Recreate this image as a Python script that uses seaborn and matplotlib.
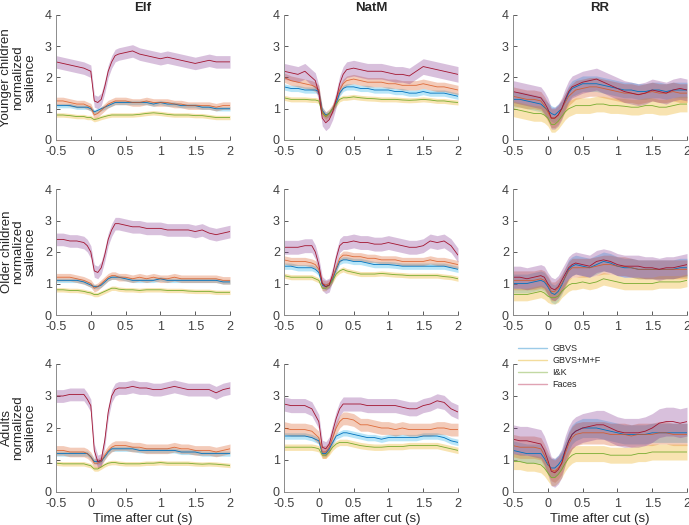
import numpy as np
import pandas as pd
import matplotlib
matplotlib.use("Agg")
import matplotlib.pyplot as plt
import seaborn as sns
from matplotlib.lines import Line2D

# ---------------- data ----------------
time = [-0.5, -0.4, -0.3, -0.2, -0.1, -0.05, 0.0, 0.05, 0.1, 0.15, 0.2, 0.25, 0.3, 0.35, 0.4,
        0.5, 0.6, 0.7, 0.8, 0.9, 1.0, 1.1, 1.2, 1.3, 1.4, 1.5, 1.6, 1.7, 1.8, 1.9, 2.0]

groups = ["Younger children", "Older children", "Adults"]
stimuli = ["Elf", "NatM", "RR"]
models = ["GBVS", "GBVS+M+F", "I&K", "Faces"]

# Younger children
y_elf_gbvs = [1.1,1.1,1.1,1.05,1.05,1.05,1.0,0.9,0.95,1.0,1.05,1.1,1.15,1.2,1.2,1.2,1.2,1.2,1.2,1.15,1.2,1.15,1.15,1.1,1.1,1.1,1.05,1.05,1.0,1.0,1.0]
y_elf_gmf = [1.25,1.25,1.2,1.15,1.15,1.1,1.05,0.8,0.85,0.95,1.05,1.15,1.2,1.25,1.25,1.25,1.2,1.2,1.25,1.2,1.2,1.2,1.15,1.15,1.1,1.1,1.1,1.1,1.05,1.1,1.1]
y_elf_ik = [0.8,0.8,0.78,0.75,0.75,0.72,0.72,0.65,0.68,0.72,0.75,0.78,0.8,0.8,0.8,0.8,0.8,0.82,0.85,0.87,0.85,0.82,0.8,0.8,0.8,0.78,0.78,0.75,0.72,0.72,0.72]
y_elf_faces = [2.5,2.45,2.4,2.35,2.3,2.25,2.2,1.25,1.2,1.3,1.7,2.2,2.5,2.7,2.75,2.8,2.85,2.75,2.7,2.65,2.6,2.65,2.6,2.55,2.5,2.45,2.5,2.55,2.5,2.5,2.5]

y_natm_gbvs = [1.7,1.65,1.65,1.6,1.6,1.6,1.55,0.95,0.8,0.85,1.0,1.2,1.5,1.65,1.7,1.7,1.65,1.65,1.6,1.6,1.6,1.55,1.55,1.5,1.5,1.55,1.5,1.5,1.5,1.45,1.4]
y_natm_gmf = [2.0,1.9,1.85,1.8,1.75,1.7,1.6,0.9,0.75,0.85,1.0,1.3,1.6,1.8,1.9,1.95,1.9,1.85,1.85,1.85,1.8,1.8,1.75,1.75,1.75,1.8,1.75,1.7,1.7,1.65,1.6]
y_natm_ik = [1.35,1.3,1.3,1.3,1.28,1.28,1.25,0.85,0.75,0.85,1.0,1.15,1.3,1.35,1.35,1.38,1.35,1.33,1.32,1.3,1.3,1.3,1.28,1.27,1.28,1.3,1.28,1.25,1.25,1.22,1.2]
y_natm_faces = [2.2,2.15,2.1,2.2,2.0,1.9,1.5,0.7,0.55,0.65,0.9,1.3,1.8,2.1,2.25,2.3,2.25,2.2,2.2,2.2,2.15,2.1,2.1,2.05,2.2,2.35,2.3,2.25,2.2,2.15,2.1]

y_rr_gbvs = [1.3,1.3,1.25,1.2,1.15,1.05,0.95,0.85,0.8,0.9,1.0,1.25,1.5,1.65,1.7,1.8,1.8,1.8,1.75,1.7,1.65,1.6,1.6,1.55,1.55,1.6,1.6,1.55,1.6,1.6,1.6]
y_rr_gmf = [1.4,1.35,1.3,1.3,1.25,1.1,0.9,0.7,0.7,0.8,1.0,1.2,1.4,1.5,1.6,1.65,1.7,1.7,1.65,1.6,1.55,1.5,1.5,1.45,1.5,1.55,1.5,1.5,1.55,1.5,1.5]
y_rr_ik = [1.0,0.95,0.9,0.85,0.85,0.8,0.7,0.5,0.5,0.6,0.75,0.9,1.0,1.05,1.1,1.1,1.1,1.15,1.15,1.1,1.1,1.08,1.05,1.05,1.1,1.1,1.05,1.05,1.1,1.15,1.15]
y_rr_faces = [1.55,1.5,1.45,1.4,1.35,1.2,1.0,0.7,0.7,0.8,1.0,1.3,1.55,1.7,1.75,1.85,1.9,1.95,1.85,1.75,1.65,1.55,1.5,1.45,1.5,1.6,1.55,1.5,1.6,1.65,1.6]

# Older children
o_elf_gbvs = [1.1,1.1,1.1,1.1,1.05,1.0,0.95,0.9,0.9,0.95,1.05,1.15,1.2,1.2,1.2,1.15,1.1,1.1,1.1,1.1,1.15,1.1,1.1,1.1,1.1,1.1,1.1,1.1,1.1,1.05,1.05]
o_elf_gmf = [1.2,1.2,1.2,1.15,1.1,1.05,1.0,0.85,0.9,1.0,1.1,1.2,1.25,1.25,1.2,1.2,1.15,1.2,1.15,1.2,1.15,1.15,1.2,1.15,1.15,1.15,1.15,1.15,1.15,1.1,1.1]
o_elf_ik = [0.8,0.8,0.78,0.78,0.75,0.72,0.7,0.65,0.65,0.7,0.75,0.8,0.85,0.85,0.82,0.8,0.8,0.78,0.8,0.8,0.8,0.78,0.78,0.78,0.76,0.75,0.75,0.75,0.72,0.72,0.72]
o_elf_faces = [2.4,2.4,2.35,2.35,2.3,2.2,2.0,1.4,1.35,1.5,1.9,2.4,2.7,2.9,2.9,2.85,2.8,2.8,2.75,2.75,2.75,2.7,2.7,2.7,2.7,2.65,2.7,2.6,2.55,2.6,2.65]

o_natm_gbvs = [1.55,1.55,1.5,1.5,1.5,1.45,1.35,0.95,0.9,0.95,1.15,1.45,1.7,1.75,1.75,1.7,1.7,1.65,1.6,1.6,1.6,1.58,1.55,1.55,1.55,1.55,1.55,1.55,1.55,1.5,1.45]
o_natm_gmf = [1.75,1.7,1.7,1.7,1.65,1.6,1.45,1.0,0.95,1.0,1.2,1.5,1.8,1.9,1.9,1.85,1.85,1.8,1.8,1.75,1.75,1.75,1.7,1.7,1.7,1.7,1.75,1.7,1.7,1.65,1.6]
o_natm_ik = [1.25,1.2,1.2,1.2,1.2,1.15,1.1,0.85,0.85,0.95,1.1,1.3,1.4,1.45,1.4,1.35,1.3,1.3,1.3,1.32,1.3,1.28,1.27,1.25,1.25,1.25,1.25,1.25,1.22,1.2,1.15]
o_natm_faces = [2.15,2.15,2.15,2.2,2.2,2.0,1.6,1.0,0.9,0.95,1.3,1.8,2.2,2.3,2.3,2.35,2.3,2.3,2.25,2.25,2.3,2.25,2.2,2.15,2.15,2.2,2.35,2.3,2.35,2.2,1.9]

o_rr_gbvs = [1.0,1.0,1.0,1.05,1.1,1.05,0.9,0.7,0.65,0.75,0.95,1.2,1.45,1.55,1.6,1.55,1.5,1.6,1.7,1.65,1.55,1.5,1.5,1.45,1.45,1.45,1.45,1.45,1.45,1.5,1.5]
o_rr_gmf = [1.1,1.1,1.1,1.1,1.15,1.1,0.95,0.75,0.75,0.85,1.0,1.2,1.4,1.5,1.5,1.5,1.5,1.55,1.6,1.6,1.55,1.55,1.5,1.45,1.45,1.45,1.45,1.45,1.45,1.45,1.45]
o_rr_ik = [0.65,0.65,0.65,0.7,0.75,0.7,0.6,0.55,0.55,0.6,0.75,0.85,0.95,1.0,1.0,1.05,1.0,1.05,1.15,1.1,1.05,1.0,1.0,1.0,1.0,1.0,1.05,1.05,1.05,1.05,1.1]
o_rr_faces = [1.2,1.2,1.15,1.2,1.25,1.2,1.0,0.85,0.8,0.9,1.1,1.3,1.5,1.6,1.65,1.6,1.55,1.7,1.75,1.7,1.6,1.55,1.55,1.55,1.5,1.5,1.45,1.5,1.5,1.55,1.6]

# Adults
a_elf_gbvs = [1.2,1.2,1.2,1.2,1.2,1.2,1.1,0.95,0.95,0.95,1.1,1.25,1.35,1.35,1.35,1.35,1.35,1.3,1.3,1.3,1.3,1.3,1.3,1.25,1.25,1.25,1.2,1.2,1.2,1.2,1.2]
a_elf_gmf = [1.3,1.3,1.25,1.25,1.25,1.2,1.1,0.9,0.9,0.95,1.15,1.3,1.4,1.45,1.45,1.45,1.4,1.4,1.35,1.35,1.35,1.35,1.4,1.35,1.35,1.3,1.3,1.3,1.25,1.3,1.35]
a_elf_ik = [0.9,0.88,0.88,0.88,0.88,0.85,0.82,0.72,0.72,0.78,0.85,0.9,0.92,0.92,0.9,0.88,0.88,0.88,0.9,0.9,0.92,0.9,0.9,0.9,0.9,0.88,0.87,0.88,0.87,0.85,0.83]
a_elf_faces = [3.0,3.0,3.05,3.05,3.05,2.9,2.7,1.3,0.95,1.0,1.6,2.5,3.0,3.2,3.25,3.25,3.3,3.25,3.25,3.2,3.2,3.25,3.3,3.25,3.2,3.2,3.2,3.2,3.1,3.2,3.25]

a_natm_gbvs = [1.75,1.75,1.75,1.75,1.7,1.65,1.6,1.2,1.2,1.35,1.55,1.75,1.8,1.85,1.85,1.8,1.75,1.7,1.7,1.65,1.7,1.7,1.7,1.7,1.7,1.75,1.75,1.75,1.7,1.6,1.55]
a_natm_gmf = [2.0,1.95,1.95,1.95,1.9,1.8,1.7,1.25,1.25,1.4,1.7,2.0,2.2,2.3,2.3,2.25,2.1,2.1,2.05,2.0,2.0,1.95,2.0,1.95,1.95,1.95,1.95,2.0,2.0,1.95,1.95]
a_natm_ik = [1.4,1.4,1.4,1.4,1.4,1.38,1.35,1.15,1.15,1.25,1.4,1.5,1.55,1.55,1.55,1.5,1.45,1.42,1.4,1.4,1.42,1.42,1.42,1.45,1.45,1.45,1.45,1.45,1.4,1.35,1.3]
a_natm_faces = [2.75,2.7,2.7,2.7,2.6,2.4,2.2,1.4,1.35,1.5,1.9,2.3,2.6,2.75,2.75,2.75,2.75,2.7,2.7,2.7,2.7,2.7,2.65,2.6,2.6,2.7,2.75,2.85,2.8,2.6,2.5]

a_rr_gbvs = [1.3,1.25,1.2,1.2,1.2,1.05,0.85,0.75,0.75,0.85,1.0,1.3,1.6,1.8,1.9,2.0,2.0,2.0,1.95,1.9,1.85,1.8,1.8,1.8,1.8,1.85,1.85,1.85,1.85,1.85,1.85]
a_rr_gmf = [1.45,1.4,1.4,1.4,1.35,1.15,0.9,0.7,0.65,0.75,0.9,1.2,1.5,1.7,1.8,1.85,1.85,1.85,1.85,1.8,1.8,1.8,1.75,1.8,1.8,1.8,1.85,1.85,1.8,1.8,1.8]
a_rr_ik = [0.95,0.95,0.9,0.9,0.85,0.75,0.6,0.45,0.45,0.55,0.7,0.9,1.05,1.15,1.2,1.2,1.2,1.2,1.2,1.15,1.15,1.15,1.15,1.2,1.2,1.25,1.25,1.25,1.25,1.25,1.25]
a_rr_faces = [1.65,1.6,1.6,1.55,1.5,1.3,1.0,0.65,0.6,0.7,0.9,1.3,1.6,1.8,1.9,2.0,2.05,2.1,2.1,2.0,1.9,1.85,1.85,1.85,1.9,2.0,2.15,2.2,2.2,2.15,2.2]

# half-width of the shaded band, per panel, per model (GBVS, GBVS+M+F, I&K, Faces)
band_y = {"Elf": [0.07, 0.12, 0.07, 0.2], "NatM": [0.1, 0.15, 0.08, 0.25], "RR": [0.25, 0.3, 0.25, 0.35]}
band_o = {"Elf": [0.07, 0.12, 0.07, 0.2], "NatM": [0.1, 0.13, 0.08, 0.22], "RR": [0.3, 0.3, 0.2, 0.35]}
band_a = {"Elf": [0.08, 0.15, 0.07, 0.2], "NatM": [0.1, 0.2, 0.1, 0.22], "RR": [0.3, 0.35, 0.25, 0.45]}

means = {
    "Younger children": {"Elf": [y_elf_gbvs, y_elf_gmf, y_elf_ik, y_elf_faces],
                         "NatM": [y_natm_gbvs, y_natm_gmf, y_natm_ik, y_natm_faces],
                         "RR": [y_rr_gbvs, y_rr_gmf, y_rr_ik, y_rr_faces]},
    "Older children": {"Elf": [o_elf_gbvs, o_elf_gmf, o_elf_ik, o_elf_faces],
                       "NatM": [o_natm_gbvs, o_natm_gmf, o_natm_ik, o_natm_faces],
                       "RR": [o_rr_gbvs, o_rr_gmf, o_rr_ik, o_rr_faces]},
    "Adults": {"Elf": [a_elf_gbvs, a_elf_gmf, a_elf_ik, a_elf_faces],
               "NatM": [a_natm_gbvs, a_natm_gmf, a_natm_ik, a_natm_faces],
               "RR": [a_rr_gbvs, a_rr_gmf, a_rr_ik, a_rr_faces]},
}
bands = {"Younger children": band_y, "Older children": band_o, "Adults": band_a}

# ---------------- style ----------------
line_colors = ["#0072BD", "#D95319", "#77AC30", "#A2142F"]
shade_colors = ["#4DBEEE", "#D95319", "#EDB120", "#7E2F8E"]
shade_alpha = [0.40, 0.30, 0.35, 0.30]
legend_colors = ["#9ccbe8", "#f3dc9c", "#c2d9a3", "#e0a3b3"]

sns.set_theme(style="ticks")
plt.rcParams["font.family"] = ["Liberation Sans", "DejaVu Sans"]
axc = "#404040"

fig = plt.figure(figsize=(6.89, 5.25), dpi=100)
W, H = 689, 525
col_x = [56, 284, 513]
row_y = [(15, 140), (189, 315), (364, 492)]
aw = 174

for r, g in enumerate(groups):
    for c, s in enumerate(stimuli):
        top, bot = row_y[r]
        ax = fig.add_axes([col_x[c] / W, 1 - bot / H, aw / W, (bot - top) / H])
        for k, m in enumerate(models):
            mu = np.array(means[g][s][k])
            hw = bands[g][s][k]
            ax.fill_between(time, mu - hw, mu + hw, color=shade_colors[k],
                            alpha=shade_alpha[k], linewidth=0)
        for k, m in enumerate(models):
            df = pd.DataFrame({"t": time, "v": means[g][s][k]})
            sns.lineplot(data=df, x="t", y="v", ax=ax, color=line_colors[k],
                         linewidth=0.6, alpha=0.8 if k == 1 else 1.0, errorbar=None)
        ax.set_xlim(-0.5, 2)
        ax.set_ylim(0, 4)
        ax.set_xticks([-0.5, 0, 0.5, 1, 1.5, 2])
        ax.set_xticklabels(["-0.5", "0", "0.5", "1", "1.5", "2"])
        ax.set_yticks([0, 1, 2, 3, 4])
        ax.tick_params(direction="in", length=3, width=0.6, labelsize=9, colors=axc)
        ax.tick_params(axis="x", pad=4.5)
        ax.tick_params(axis="y", pad=3)
        for sp in ["top", "right"]:
            ax.spines[sp].set_visible(False)
        for sp in ["left", "bottom"]:
            ax.spines[sp].set_color("#8c8c8c")
            ax.spines[sp].set_linewidth(0.7)
        ax.set_xlabel("Time after cut (s)" if r == 2 else "", fontsize=9.5, color="#262626", labelpad=2)
        if c == 0:
            ax.set_ylabel(f"{g}\nnormalized\nsalience", fontsize=9.5, color="#262626",
                          linespacing=1.0, labelpad=6)
        else:
            ax.set_ylabel("")
        if r == 0:
            ax.set_title(s, fontsize=9.5, fontweight="bold", color="#262626", pad=3)
        if r == 2 and c == 2:
            handles = [Line2D([0], [0], color=legend_colors[k], lw=1.0) for k in range(4)]
            fig.legend(handles, models, loc="upper left",
                       bbox_to_anchor=(518 / W, 1 - 344 / H), frameon=False,
                       fontsize=6.5, handlelength=3.2, handletextpad=0.6,
                       labelspacing=0.35, borderaxespad=0, borderpad=0)

fig.savefig("out.png", dpi=100)
